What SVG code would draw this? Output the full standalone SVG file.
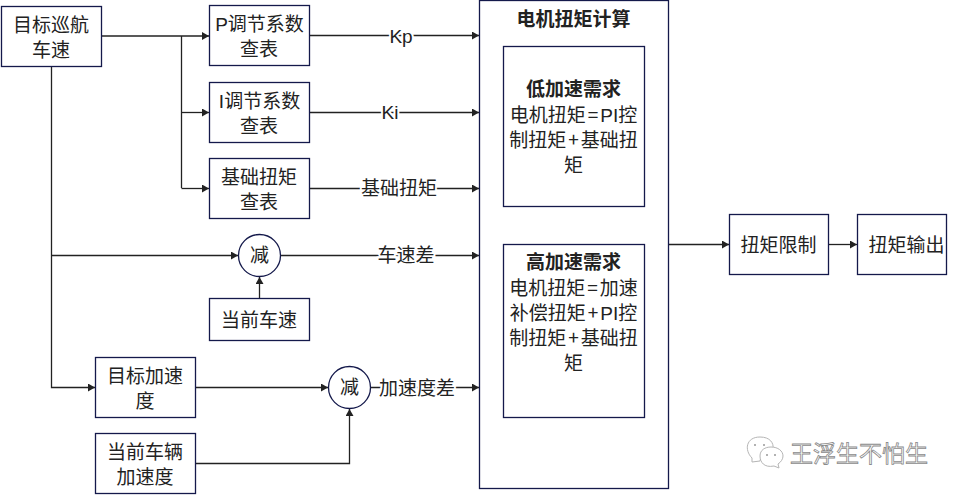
<svg xmlns="http://www.w3.org/2000/svg" width="958" height="495" viewBox="0 0 958 495">
<defs>
<marker id="a" markerUnits="userSpaceOnUse" markerWidth="8" markerHeight="8" refX="7" refY="4" orient="auto"><path d="M0 0L7 4L0 8Z" fill="#222"/></marker>
</defs>
<style>
.b{fill:#fff;stroke:#14194b;stroke-width:1.3}
.c{fill:none;stroke:#222;stroke-width:1.3}
.ar{marker-end:url(#a)}
text{font-family:"Noto Sans CJK SC","Liberation Sans",sans-serif;font-size:19px;fill:#222;text-anchor:middle}
.t{font-weight:700}
.l{stroke:#fff;stroke-width:4px;paint-order:stroke}
.w{fill:#fff;stroke:#8a8a8a;stroke-width:.8;font-size:23px;text-anchor:start}
.wb{fill:#fff;stroke:#b5b5b5;stroke-width:1}
.we{fill:#999}
</style>
<rect width="958" height="495" fill="#fff"/>
<g id="connectors">
<path class="c ar" d="M101 36H209"/>
<path class="c" d="M181.500 36V188"/>
<path class="c ar" d="M181.500 112.500H209"/>
<path class="c ar" d="M181.500 188.500H209"/>
<path class="c ar" d="M51.500 66V387.500H95"/>
<path class="c ar" d="M51.500 255.500H238"/>
<path class="c ar" d="M259.500 298V277"/>
<path class="c ar" d="M195.500 387.500H328"/>
<path class="c ar" d="M195.500 463.500H349.500V409"/>
<path class="c ar" d="M309.500 35.500H479"/>
<path class="c ar" d="M309.500 112.500H479"/>
<path class="c ar" d="M309.500 188.500H479"/>
<path class="c ar" d="M281 255.500H479"/>
<path class="c ar" d="M371 387.500H479"/>
<path class="c ar" d="M668.500 244.500H729"/>
<path class="c ar" d="M828 244.500H857"/>
<text class="l" x="401" y="43" style="font-family:'Liberation Sans',sans-serif">Kp</text>
<text class="l" x="390" y="119" style="font-family:'Liberation Sans',sans-serif">Ki</text>
<text class="l" x="399" y="195">基础扭矩</text>
<text class="l" x="406" y="262">车速差</text>
<text class="l" x="417" y="395">加速度差</text>
</g>
<g id="n-target"><rect class="b" x="1.500" y="6.500" width="100" height="60"/><text x="51" y="32">目标巡航</text><text x="51" y="57">车速</text></g>
<g id="n-p"><rect class="b" x="209.500" y="5.500" width="100" height="60"/><text x="259.500" y="31"><tspan font-family="Liberation Sans">P</tspan>调节系数</text><text x="259" y="56">查表</text></g>
<g id="n-i"><rect class="b" x="209.500" y="82.500" width="100" height="60"/><text x="259.500" y="108"><tspan font-family="Liberation Sans">I</tspan>调节系数</text><text x="259" y="133">查表</text></g>
<g id="n-base"><rect class="b" x="209.500" y="158.500" width="100" height="60"/><text x="259" y="184">基础扭矩</text><text x="259" y="209">查表</text></g>
<g id="n-sub1"><circle class="b" cx="259.500" cy="255.500" r="21"/><text x="259.500" y="262">减</text></g>
<g id="n-speed"><rect class="b" x="209.500" y="298.500" width="100" height="42"/><text x="259" y="327">当前车速</text></g>
<g id="n-targetacc"><rect class="b" x="95.500" y="357.500" width="100" height="60"/><text x="145" y="383">目标加速</text><text x="145" y="408">度</text></g>
<g id="n-curacc"><rect class="b" x="95.500" y="433.500" width="100" height="60"/><text x="145" y="459">当前车辆</text><text x="145" y="484">加速度</text></g>
<g id="n-sub2"><circle class="b" cx="349.500" cy="387.500" r="21"/><text x="349.500" y="394">减</text></g>
<g id="n-main"><rect class="b" x="479.500" y="0.500" width="189" height="488"/><text class="t" x="573.500" y="26">电机扭矩计算</text></g>
<g id="n-low"><rect class="b" x="503.500" y="46.500" width="141" height="160"/><text class="t" x="573.500" y="96">低加速需求</text><text x="573.500" y="122">电机扭矩<tspan dx="2">=</tspan><tspan dx="2" font-family="Liberation Sans">PI</tspan>控</text><text x="573.500" y="147">制扭矩<tspan dx="2">+</tspan><tspan dx="2">基础扭</tspan></text><text x="573.500" y="172">矩</text></g>
<g id="n-high"><rect class="b" x="503.500" y="244.500" width="141" height="173"/><text class="t" x="573.500" y="269">高加速需求</text><text x="573.500" y="295">电机扭矩<tspan dx="2">=</tspan><tspan dx="2">加速</tspan></text><text x="573.500" y="320">补偿扭矩<tspan dx="2">+</tspan><tspan dx="2" font-family="Liberation Sans">PI</tspan>控</text><text x="573.500" y="345">制扭矩<tspan dx="2">+</tspan><tspan dx="2">基础扭</tspan></text><text x="573.500" y="370">矩</text></g>
<g id="n-limit"><rect class="b" x="729.500" y="214.500" width="99" height="60"/><text x="778.500" y="252">扭矩限制</text></g>
<g id="n-out"><rect class="b" x="857.500" y="214.500" width="89" height="60"/><text x="906.500" y="252">扭矩输出</text></g>
<g id="watermark"><text class="w" x="790" y="462">王浮生不怕生</text>
<path class="wb" d="M752 458C744 450 746 437 760 437C770 437 774 443 773 449C768 451 761 453 760 461L752 462Z"/>
<path class="wb" d="M778 464L779 468L774 466C764 468 760 462 760 456C760 450 765 447 771 447C778 447 783 451 783 456C783 459 781 462 778 464Z"/>
<circle class="we" cx="755" cy="445" r="1"/><circle class="we" cx="764" cy="445" r="1"/><circle class="we" cx="767" cy="455" r="1"/><circle class="we" cx="775" cy="455" r="1"/></g>
</svg>
